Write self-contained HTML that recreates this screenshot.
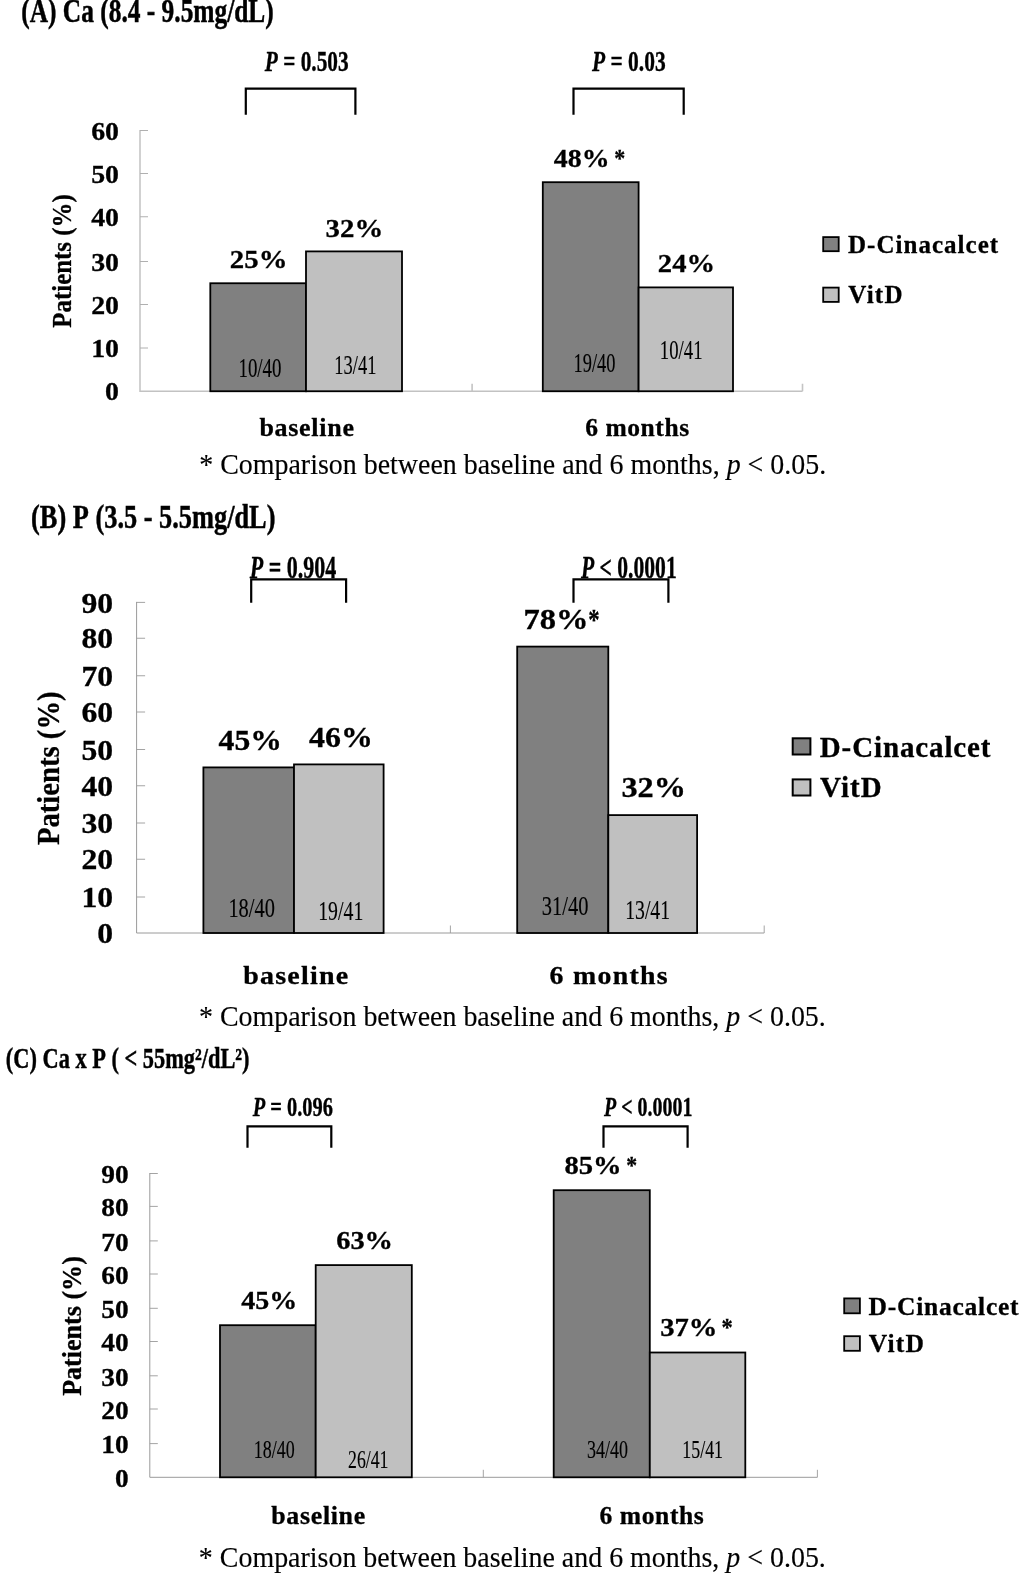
<!DOCTYPE html>
<html><head><meta charset="utf-8"><title>Figure</title>
<style>
html,body{margin:0;padding:0;background:#fff;}
body{width:1024px;height:1577px;overflow:hidden;}
svg{display:block;will-change:transform;}
text{font-family:"Liberation Serif",serif;font-weight:bold;fill:#000;white-space:pre;stroke:#000;stroke-width:0.3px;}
</style></head><body>
<svg width="1024" height="1577" viewBox="0 0 1024 1577">
<path d="M140.00 130.00 V391.25 H802.50" fill="none" stroke="#c2c2c2" stroke-width="1.5"/>
<path d="M140.00 348.00 h8.00M140.00 304.50 h8.00M140.00 261.50 h8.00M140.00 216.75 h8.00M140.00 173.50 h8.00M140.00 130.50 h8.00" fill="none" stroke="#b0b0b0" stroke-width="1"/>
<path d="M472.10 391.25 v-7.5M802.50 391.25 v-7.5" fill="none" stroke="#c4c4c4" stroke-width="1.6"/>
<text transform="translate(105.12,400.25) scale(1.0836,1)" style="font-size:25.7px;"><tspan style="font-weight:bold;">0</tspan></text>
<text transform="translate(91.19,357.00) scale(1.0836,1)" style="font-size:25.7px;"><tspan style="font-weight:bold;">10</tspan></text>
<text transform="translate(91.19,313.50) scale(1.0836,1)" style="font-size:25.7px;"><tspan style="font-weight:bold;">20</tspan></text>
<text transform="translate(91.19,270.50) scale(1.0836,1)" style="font-size:25.7px;"><tspan style="font-weight:bold;">30</tspan></text>
<text transform="translate(91.19,225.75) scale(1.0836,1)" style="font-size:25.7px;"><tspan style="font-weight:bold;">40</tspan></text>
<text transform="translate(91.19,182.50) scale(1.0836,1)" style="font-size:25.7px;"><tspan style="font-weight:bold;">50</tspan></text>
<text transform="translate(91.19,139.50) scale(1.0836,1)" style="font-size:25.7px;"><tspan style="font-weight:bold;">60</tspan></text>
<rect x="210.30" y="283.25" width="95.70" height="108.00" fill="#808080" stroke="#000" stroke-width="1.8"/>
<rect x="306.00" y="251.40" width="96.00" height="139.85" fill="#c0c0c0" stroke="#000" stroke-width="1.8"/>
<rect x="542.80" y="182.20" width="95.80" height="209.05" fill="#808080" stroke="#000" stroke-width="1.8"/>
<rect x="638.60" y="287.40" width="94.40" height="103.85" fill="#c0c0c0" stroke="#000" stroke-width="1.8"/>
<text transform="translate(21.22,22.30) scale(0.7474,1)" style="font-size:34px;stroke:#000;stroke-width:0.5px;"><tspan style="font-weight:bold;">(A)&#160;Ca&#160;(8.4&#160;-&#160;9.5mg/dL)</tspan></text>
<text transform="translate(264.80,71.20) scale(0.7114,1)" style="font-size:30px;stroke:#000;stroke-width:0.4px;"><tspan style="font-weight:bold;font-style:italic;">P</tspan><tspan style="font-weight:bold;">&#160;=&#160;0.503</tspan></text>
<text transform="translate(592.00,71.20) scale(0.7160,1)" style="font-size:30px;stroke:#000;stroke-width:0.4px;"><tspan style="font-weight:bold;font-style:italic;">P</tspan><tspan style="font-weight:bold;">&#160;=&#160;0.03</tspan></text>
<path d="M245.80 114.80 V88.70 H355.40 V114.80" fill="none" stroke="#000" stroke-width="2.2"/>
<path d="M573.50 114.80 V88.70 H683.70 V114.80" fill="none" stroke="#000" stroke-width="2.2"/>
<text transform="translate(71.10,327.64) rotate(-90) scale(0.9321,1)" style="font-size:26.7px;"><tspan style="font-weight:bold;">Patients&#160;(%)</tspan></text>
<text transform="translate(229.85,268.40) scale(1.1080,1)" style="font-size:26px;"><tspan style="font-weight:bold;">25%</tspan></text>
<text transform="translate(325.62,236.80) scale(1.1086,1)" style="font-size:26px;"><tspan style="font-weight:bold;">32%</tspan></text>
<text transform="translate(553.85,167.30) scale(1.0716,1)" style="font-size:26px;"><tspan style="font-weight:bold;">48%</tspan></text>
<text transform="translate(614.36,167.30) scale(0.8475,1)" style="font-size:26px;"><tspan style="font-weight:bold;">*</tspan></text>
<text transform="translate(657.86,272.00) scale(1.0998,1)" style="font-size:26px;"><tspan style="font-weight:bold;">24%</tspan></text>
<text transform="translate(238.45,376.70) scale(0.7108,1)" style="font-size:26.6px;"><tspan style="font-weight:normal;stroke-width:0.15px;">10/40</tspan></text>
<text transform="translate(334.28,373.70) scale(0.6954,1)" style="font-size:26.6px;"><tspan style="font-weight:normal;stroke-width:0.15px;">13/41</tspan></text>
<text transform="translate(573.59,371.60) scale(0.6916,1)" style="font-size:26.6px;"><tspan style="font-weight:normal;stroke-width:0.15px;">19/40</tspan></text>
<text transform="translate(659.86,359.30) scale(0.7042,1)" style="font-size:26.6px;"><tspan style="font-weight:normal;stroke-width:0.15px;">10/41</tspan></text>
<text transform="translate(259.38,436.20) scale(1.0606,1)" style="font-size:24.5px;letter-spacing:0.681px;"><tspan style="font-weight:bold;">baseline</tspan></text>
<text transform="translate(585.17,436.00) scale(1.0419,1)" style="font-size:24.5px;letter-spacing:0.544px;"><tspan style="font-weight:bold;">6&#160;months</tspan></text>
<rect x="823.20" y="237.10" width="15.50" height="14.10" fill="#808080" stroke="#000" stroke-width="1.8"/>
<rect x="823.20" y="287.60" width="15.50" height="14.30" fill="#c0c0c0" stroke="#000" stroke-width="1.8"/>
<text x="848.06" y="252.90" style="font-size:25px;letter-spacing:1.017px;"><tspan style="font-weight:bold;">D-Cinacalcet</tspan></text>
<text x="848.25" y="302.90" style="font-size:25px;letter-spacing:1.267px;"><tspan style="font-weight:bold;">VitD</tspan></text>
<text transform="translate(199.27,474.10) scale(0.9567,1)" style="font-size:29.2px;"><tspan style="font-weight:normal;stroke-width:0.15px;">*&#160;Comparison&#160;between&#160;baseline&#160;and&#160;6&#160;months,&#160;</tspan><tspan style="font-weight:normal;font-style:italic;stroke-width:0.15px;">p</tspan><tspan style="font-weight:normal;stroke-width:0.15px;">&#160;&lt;&#160;0.05.</tspan></text>
<path d="M136.60 601.90 V933.00 H764.20" fill="none" stroke="#9a9a9a" stroke-width="1"/>
<path d="M136.60 897.00 h8.50M136.60 859.25 h8.50M136.60 823.00 h8.50M136.60 785.75 h8.50M136.60 749.50 h8.50M136.60 712.00 h8.50M136.60 675.75 h8.50M136.60 638.25 h8.50M136.60 602.40 h8.50" fill="none" stroke="#9a9a9a" stroke-width="0.9"/>
<path d="M450.40 933.00 v-7.5M764.20 933.00 v-7.5" fill="none" stroke="#9a9a9a" stroke-width="0.9"/>
<text transform="translate(97.36,943.10) scale(1.1108,1)" style="font-size:28.5px;"><tspan style="font-weight:bold;">0</tspan></text>
<text transform="translate(81.53,907.10) scale(1.1108,1)" style="font-size:28.5px;"><tspan style="font-weight:bold;">10</tspan></text>
<text transform="translate(81.53,869.35) scale(1.1108,1)" style="font-size:28.5px;"><tspan style="font-weight:bold;">20</tspan></text>
<text transform="translate(81.53,833.10) scale(1.1108,1)" style="font-size:28.5px;"><tspan style="font-weight:bold;">30</tspan></text>
<text transform="translate(81.53,795.85) scale(1.1108,1)" style="font-size:28.5px;"><tspan style="font-weight:bold;">40</tspan></text>
<text transform="translate(81.53,759.60) scale(1.1108,1)" style="font-size:28.5px;"><tspan style="font-weight:bold;">50</tspan></text>
<text transform="translate(81.53,722.10) scale(1.1108,1)" style="font-size:28.5px;"><tspan style="font-weight:bold;">60</tspan></text>
<text transform="translate(81.53,685.85) scale(1.1108,1)" style="font-size:28.5px;"><tspan style="font-weight:bold;">70</tspan></text>
<text transform="translate(81.53,648.35) scale(1.1108,1)" style="font-size:28.5px;"><tspan style="font-weight:bold;">80</tspan></text>
<text transform="translate(81.53,612.50) scale(1.1108,1)" style="font-size:28.5px;"><tspan style="font-weight:bold;">90</tspan></text>
<rect x="203.40" y="767.40" width="90.60" height="165.60" fill="#808080" stroke="#000" stroke-width="1.8"/>
<rect x="294.00" y="764.40" width="89.60" height="168.60" fill="#c0c0c0" stroke="#000" stroke-width="1.8"/>
<rect x="517.20" y="646.60" width="91.10" height="286.40" fill="#808080" stroke="#000" stroke-width="1.8"/>
<rect x="608.30" y="815.10" width="88.80" height="117.90" fill="#c0c0c0" stroke="#000" stroke-width="1.8"/>
<text transform="translate(31.08,527.90) scale(0.7751,1)" style="font-size:34px;stroke:#000;stroke-width:0.5px;"><tspan style="font-weight:bold;">(B)&#160;P&#160;(3.5&#160;-&#160;5.5mg/dL)</tspan></text>
<text transform="translate(249.70,577.50) scale(0.6993,1)" style="font-size:31.5px;stroke:#000;stroke-width:0.4px;"><tspan style="font-weight:bold;font-style:italic;">P</tspan><tspan style="font-weight:bold;">&#160;=&#160;0.904</tspan></text>
<text transform="translate(581.00,577.50) scale(0.6862,1)" style="font-size:31.5px;stroke:#000;stroke-width:0.4px;"><tspan style="font-weight:bold;font-style:italic;">P</tspan><tspan style="font-weight:bold;">&#160;&lt;&#160;0.0001</tspan></text>
<path d="M251.20 602.70 V579.30 H346.10 V602.70" fill="none" stroke="#000" stroke-width="2.2"/>
<path d="M573.50 602.70 V579.30 H668.40 V602.70" fill="none" stroke="#000" stroke-width="2.2"/>
<text transform="translate(59.10,845.00) rotate(-90) scale(0.8824,1)" style="font-size:32.5px;"><tspan style="font-weight:bold;">Patients&#160;(%)</tspan></text>
<text transform="translate(218.60,749.80) scale(1.1110,1)" style="font-size:28.5px;"><tspan style="font-weight:bold;">45%</tspan></text>
<text transform="translate(309.10,746.90) scale(1.1184,1)" style="font-size:28.5px;"><tspan style="font-weight:bold;">46%</tspan></text>
<text transform="translate(523.53,628.80) scale(1.1399,1)" style="font-size:28.5px;"><tspan style="font-weight:bold;">78%</tspan></text>
<text transform="translate(588.23,628.80) scale(0.7984,1)" style="font-size:28.5px;"><tspan style="font-weight:bold;">*</tspan></text>
<text transform="translate(621.49,797.30) scale(1.1314,1)" style="font-size:28.5px;"><tspan style="font-weight:bold;">32%</tspan></text>
<text transform="translate(228.41,917.30) scale(0.7300,1)" style="font-size:28px;"><tspan style="font-weight:normal;stroke-width:0.15px;">18/40</tspan></text>
<text transform="translate(318.17,920.30) scale(0.7076,1)" style="font-size:28px;"><tspan style="font-weight:normal;stroke-width:0.15px;">19/41</tspan></text>
<text transform="translate(541.83,915.30) scale(0.7314,1)" style="font-size:28px;"><tspan style="font-weight:normal;stroke-width:0.15px;">31/40</tspan></text>
<text transform="translate(625.17,919.10) scale(0.7042,1)" style="font-size:28px;"><tspan style="font-weight:normal;stroke-width:0.15px;">13/41</tspan></text>
<text transform="translate(243.15,983.90) scale(1.0984,1)" style="font-size:25.5px;letter-spacing:1.113px;"><tspan style="font-weight:bold;">baseline</tspan></text>
<text transform="translate(549.60,983.80) scale(1.0918,1)" style="font-size:25.5px;letter-spacing:1.182px;"><tspan style="font-weight:bold;">6&#160;months</tspan></text>
<rect x="792.70" y="738.30" width="17.70" height="16.20" fill="#808080" stroke="#000" stroke-width="2.0"/>
<rect x="792.70" y="779.40" width="17.70" height="16.10" fill="#c0c0c0" stroke="#000" stroke-width="2.0"/>
<text x="819.79" y="756.60" style="font-size:29px;letter-spacing:0.878px;"><tspan style="font-weight:bold;">D-Cinacalcet</tspan></text>
<text x="820.01" y="797.40" style="font-size:29px;letter-spacing:1.087px;"><tspan style="font-weight:bold;">VitD</tspan></text>
<text transform="translate(198.97,1026.30) scale(0.9565,1)" style="font-size:29.2px;"><tspan style="font-weight:normal;stroke-width:0.15px;">*&#160;Comparison&#160;between&#160;baseline&#160;and&#160;6&#160;months,&#160;</tspan><tspan style="font-weight:normal;font-style:italic;stroke-width:0.15px;">p</tspan><tspan style="font-weight:normal;stroke-width:0.15px;">&#160;&lt;&#160;0.05.</tspan></text>
<path d="M149.80 1173.00 V1477.30 H817.40" fill="none" stroke="#9a9a9a" stroke-width="1"/>
<path d="M149.80 1443.60 h8.00M149.80 1409.00 h8.00M149.80 1375.80 h8.00M149.80 1341.50 h8.00M149.80 1308.30 h8.00M149.80 1274.00 h8.00M149.80 1240.90 h8.00M149.80 1206.40 h8.00M149.80 1173.50 h8.00" fill="none" stroke="#9a9a9a" stroke-width="0.9"/>
<path d="M483.30 1477.30 v-7.5M817.40 1477.30 v-7.5" fill="none" stroke="#9a9a9a" stroke-width="0.9"/>
<text transform="translate(114.94,1487.00) scale(1.0531,1)" style="font-size:26px;"><tspan style="font-weight:bold;">0</tspan></text>
<text transform="translate(101.25,1453.30) scale(1.0531,1)" style="font-size:26px;"><tspan style="font-weight:bold;">10</tspan></text>
<text transform="translate(101.25,1418.70) scale(1.0531,1)" style="font-size:26px;"><tspan style="font-weight:bold;">20</tspan></text>
<text transform="translate(101.25,1385.50) scale(1.0531,1)" style="font-size:26px;"><tspan style="font-weight:bold;">30</tspan></text>
<text transform="translate(101.25,1351.20) scale(1.0531,1)" style="font-size:26px;"><tspan style="font-weight:bold;">40</tspan></text>
<text transform="translate(101.25,1318.00) scale(1.0531,1)" style="font-size:26px;"><tspan style="font-weight:bold;">50</tspan></text>
<text transform="translate(101.25,1283.70) scale(1.0531,1)" style="font-size:26px;"><tspan style="font-weight:bold;">60</tspan></text>
<text transform="translate(101.25,1250.60) scale(1.0531,1)" style="font-size:26px;"><tspan style="font-weight:bold;">70</tspan></text>
<text transform="translate(101.25,1216.10) scale(1.0531,1)" style="font-size:26px;"><tspan style="font-weight:bold;">80</tspan></text>
<text transform="translate(101.25,1183.20) scale(1.0531,1)" style="font-size:26px;"><tspan style="font-weight:bold;">90</tspan></text>
<rect x="220.00" y="1325.20" width="95.70" height="152.10" fill="#808080" stroke="#000" stroke-width="1.8"/>
<rect x="315.70" y="1265.10" width="96.10" height="212.20" fill="#c0c0c0" stroke="#000" stroke-width="1.8"/>
<rect x="553.70" y="1190.20" width="96.10" height="287.10" fill="#808080" stroke="#000" stroke-width="1.8"/>
<rect x="649.80" y="1352.50" width="95.50" height="124.80" fill="#c0c0c0" stroke="#000" stroke-width="1.8"/>
<text transform="translate(5.85,1068.00) scale(0.7718,1)" style="font-size:29px;stroke:#000;stroke-width:0.45px;"><tspan style="font-weight:bold;">(C)&#160;Ca&#160;x&#160;P&#160;(&#160;&lt;&#160;55mg²/dL²)</tspan></text>
<text transform="translate(252.70,1115.70) scale(0.7292,1)" style="font-size:28px;stroke:#000;stroke-width:0.4px;"><tspan style="font-weight:bold;font-style:italic;">P</tspan><tspan style="font-weight:bold;">&#160;=&#160;0.096</tspan></text>
<text transform="translate(604.10,1115.70) scale(0.7117,1)" style="font-size:28px;stroke:#000;stroke-width:0.4px;"><tspan style="font-weight:bold;font-style:italic;">P</tspan><tspan style="font-weight:bold;">&#160;&lt;&#160;0.0001</tspan></text>
<path d="M247.50 1147.70 V1126.30 H331.30 V1147.70" fill="none" stroke="#000" stroke-width="2.2"/>
<path d="M603.50 1147.70 V1126.30 H687.60 V1147.70" fill="none" stroke="#000" stroke-width="2.2"/>
<text transform="translate(80.90,1395.86) rotate(-90) scale(0.9658,1)" style="font-size:27px;"><tspan style="font-weight:bold;">Patients&#160;(%)</tspan></text>
<text transform="translate(241.25,1308.60) scale(1.1187,1)" style="font-size:25px;"><tspan style="font-weight:bold;">45%</tspan></text>
<text transform="translate(336.18,1248.80) scale(1.1371,1)" style="font-size:25px;"><tspan style="font-weight:bold;">63%</tspan></text>
<text transform="translate(564.47,1173.60) scale(1.1435,1)" style="font-size:25px;"><tspan style="font-weight:bold;">85%</tspan></text>
<text transform="translate(626.27,1173.60) scale(0.8719,1)" style="font-size:25px;"><tspan style="font-weight:bold;">*</tspan></text>
<text transform="translate(660.13,1335.90) scale(1.1465,1)" style="font-size:25px;"><tspan style="font-weight:bold;">37%</tspan></text>
<text transform="translate(721.44,1335.90) scale(0.9006,1)" style="font-size:25px;"><tspan style="font-weight:bold;">*</tspan></text>
<text transform="translate(253.83,1457.80) scale(0.7338,1)" style="font-size:24.5px;"><tspan style="font-weight:normal;stroke-width:0.15px;">18/40</tspan></text>
<text transform="translate(348.05,1468.20) scale(0.7244,1)" style="font-size:24.5px;"><tspan style="font-weight:normal;stroke-width:0.15px;">26/41</tspan></text>
<text transform="translate(587.05,1457.80) scale(0.7335,1)" style="font-size:24.5px;"><tspan style="font-weight:normal;stroke-width:0.15px;">34/40</tspan></text>
<text transform="translate(682.33,1457.80) scale(0.7301,1)" style="font-size:24.5px;"><tspan style="font-weight:normal;stroke-width:0.15px;">15/41</tspan></text>
<text transform="translate(271.28,1523.90) scale(1.0570,1)" style="font-size:24.5px;letter-spacing:0.643px;"><tspan style="font-weight:bold;">baseline</tspan></text>
<text transform="translate(599.47,1523.80) scale(1.0440,1)" style="font-size:24.5px;letter-spacing:0.570px;"><tspan style="font-weight:bold;">6&#160;months</tspan></text>
<rect x="844.20" y="1298.40" width="15.70" height="14.90" fill="#808080" stroke="#000" stroke-width="1.8"/>
<rect x="844.20" y="1336.20" width="15.70" height="14.60" fill="#c0c0c0" stroke="#000" stroke-width="1.8"/>
<text x="868.55" y="1314.90" style="font-size:25.5px;letter-spacing:0.766px;"><tspan style="font-weight:bold;">D-Cinacalcet</tspan></text>
<text x="868.75" y="1351.90" style="font-size:25.5px;letter-spacing:1.240px;"><tspan style="font-weight:bold;">VitD</tspan></text>
<text transform="translate(198.87,1566.60) scale(0.9570,1)" style="font-size:29.2px;"><tspan style="font-weight:normal;stroke-width:0.15px;">*&#160;Comparison&#160;between&#160;baseline&#160;and&#160;6&#160;months,&#160;</tspan><tspan style="font-weight:normal;font-style:italic;stroke-width:0.15px;">p</tspan><tspan style="font-weight:normal;stroke-width:0.15px;">&#160;&lt;&#160;0.05.</tspan></text>
</svg>
</body></html>
